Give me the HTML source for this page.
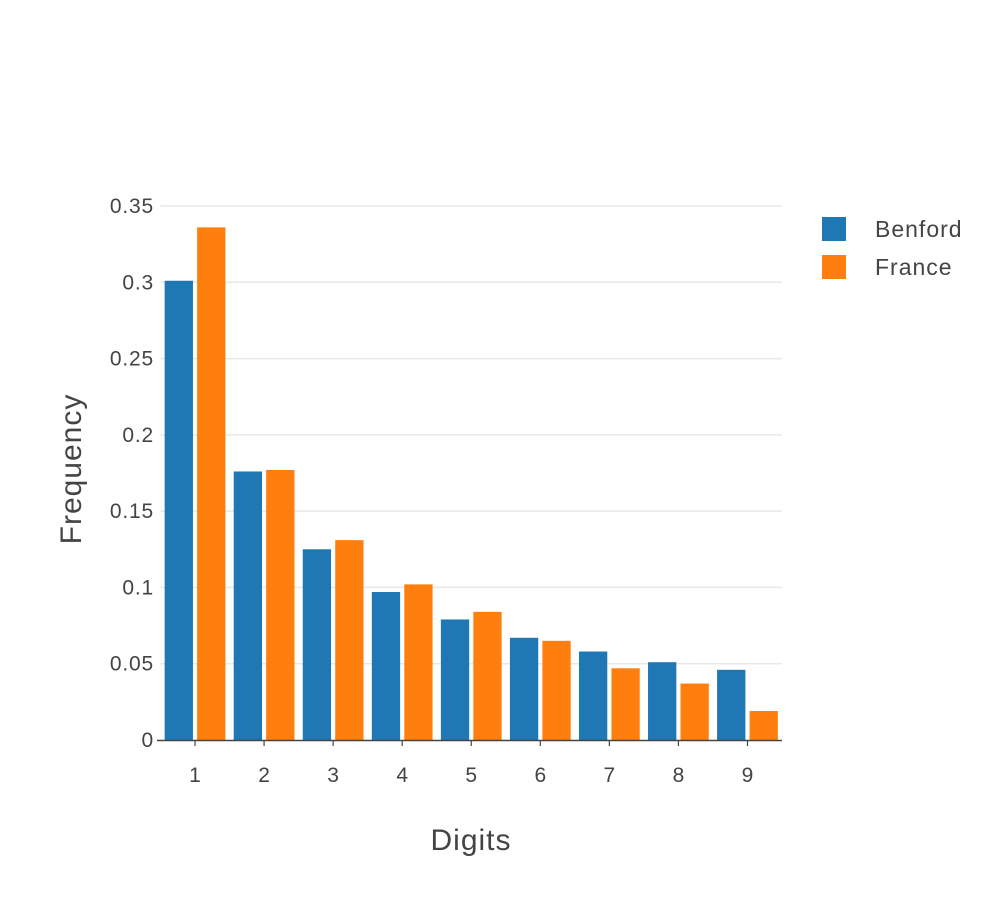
<!DOCTYPE html>
<html><head><meta charset="utf-8">
<style>
html,body{margin:0;padding:0;background:#fff;}
svg{display:block;font-family:"Liberation Sans",sans-serif;}
</style></head>
<body>
<svg id="chart" width="1000" height="900" viewBox="0 0 1000 900">
  <g id="grid"></g>
  <g id="bars"></g>
  <g id="yticks"></g>
  <g id="xticks"></g>
  <line x1="157" y1="740.5" x2="782" y2="740.5" stroke="#444" stroke-width="1.5"/>
  <text x="471" y="850" font-size="30" letter-spacing="1" fill="#444" text-anchor="middle">Digits</text>
  <text transform="translate(81,469) rotate(-90)" font-size="30" letter-spacing="1" fill="#444" text-anchor="middle">Frequency</text>
  <g>
    <g>
      <rect x="822" y="217" width="24" height="24" fill="#1f77b4"/>
      <text x="875" y="237" font-size="23" letter-spacing="1" fill="#444">Benford</text>
    </g>
    <g>
      <rect x="822" y="255" width="24" height="24" fill="#ff7f0e"/>
      <text x="875" y="275" font-size="23" letter-spacing="1" fill="#444">France</text>
    </g>
  </g>
</svg>
<script>
const categories = [1,2,3,4,5,6,7,8,9];
const benford = [0.301,0.176,0.125,0.097,0.079,0.067,0.058,0.051,0.046];
const france = [0.336,0.177,0.131,0.102,0.084,0.065,0.047,0.037,0.019];
const yTicks = [0,0.05,0.1,0.15,0.2,0.25,0.3,0.35];
const yTickLabels = ["0","0.05","0.1","0.15","0.2","0.25","0.3","0.35"];

const NS = "http://www.w3.org/2000/svg";
const x0 = 160.5, x1 = 782, y0 = 740, yTop = 206;
const xScale = v => x0 + (v - 0.5) * (x1 - x0) / 9;
const yScale = v => y0 - v * (y0 - yTop) / 0.35;
const step = (x1 - x0) / 9;
const barW = step * 0.41, gap = step * 0.06;

function mk(tag, attrs){ const e = document.createElementNS(NS, tag); for (const k in attrs) e.setAttribute(k, attrs[k]); return e; }

const grid = document.getElementById('grid');
const yt = document.getElementById('yticks');
yTicks.forEach((t,i) => {
  const y = yScale(t);
  if (t > 0) {
    const l = mk('line', {x1:x0, x2:x1, y1:y, y2:y, stroke:'#e8e8e8', 'stroke-width':1.5});
    
    
    grid.appendChild(l);
  }
  const tx = mk('text', {x:154, y:y+7, 'font-size':21, 'letter-spacing':0.8, fill:'#444', 'text-anchor':'end'});
  tx.textContent = yTickLabels[i];
  
  
  yt.appendChild(tx);
});

const xt = document.getElementById('xticks');
const bars = document.getElementById('bars');
categories.forEach((c,i) => {
  const cx = xScale(c);
  const tx = mk('text', {x:cx, y:782, 'font-size':21, fill:'#444', 'text-anchor':'middle'});
  tx.textContent = String(c);
  
  
  xt.appendChild(tx);
  const tk = mk('line', {x1:cx, x2:cx, y1:740, y2:746, stroke:'#444', 'stroke-width':1.2});
  
  
  xt.appendChild(tk);

  const b1 = mk('rect', {x:cx - gap/2 - barW, y:yScale(benford[i]), width:barW, height:y0 - yScale(benford[i]), fill:'#1f77b4'});
  
  
  bars.appendChild(b1);
  const b2 = mk('rect', {x:cx + gap/2, y:yScale(france[i]), width:barW, height:y0 - yScale(france[i]), fill:'#ff7f0e'});
  
  
  bars.appendChild(b2);
});
</script>
</body></html>
